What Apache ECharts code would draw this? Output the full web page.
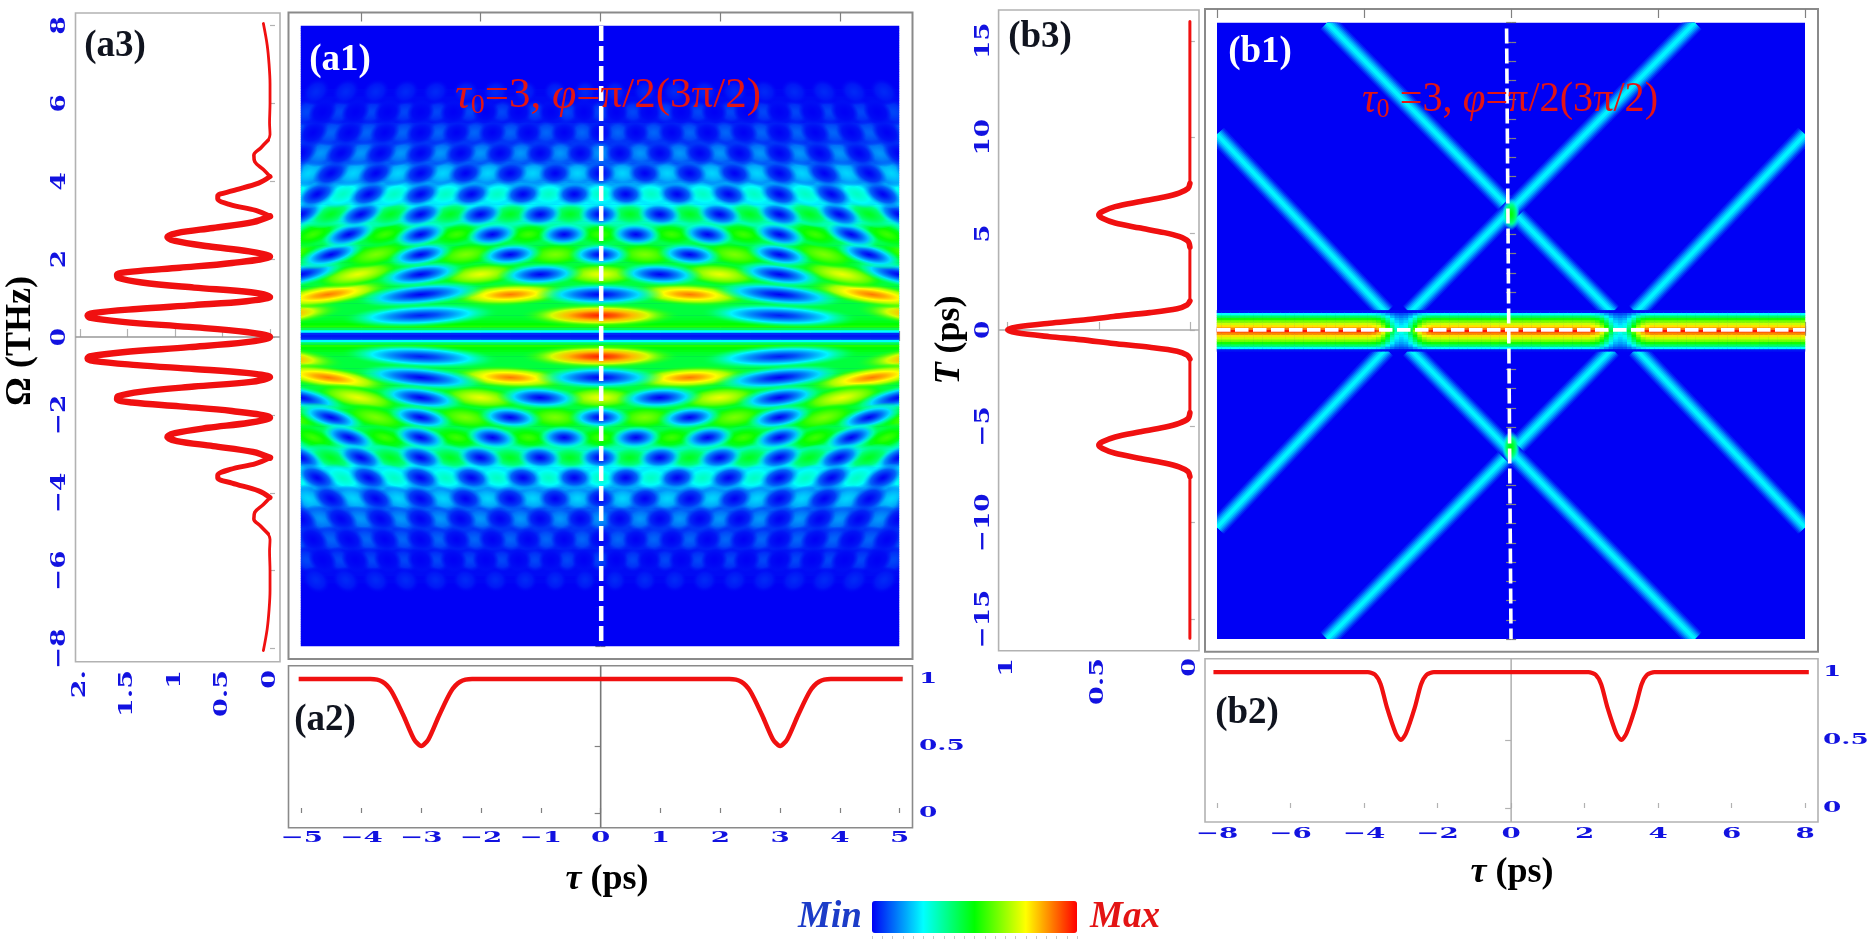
<!DOCTYPE html>
<html><head><meta charset="utf-8">
<style>html,body{margin:0;padding:0;background:#fff}#c{width:1874px;height:947px}</style>
<script src="https://cdn.jsdelivr.net/npm/echarts@6/dist/echarts.min.js"></script>
</head><body><div id="c"></div>
<script>
// ---------- values ----------
const jetColors=['#0000f5','#00ffff','#00ff00','#ffff00','#ff0000'];
// a1: background level for |Omega| = 0, 0.0625, 0.125 ...
const a1Level=[.02,.04,.25,.42,.53,.50,.48,.46,.45,
.44,.44,.44,.44,.44,.44,.44,.44, .44,.44,.44,.44,.44,.44,.44,.44,
.44,.44,.44,.44,.44,.44,.44,.44, .44,.44,.44,.44,.44,.43,.43,.42,
.40,.38,.36,.35,.34,.33,.32,.31, .30,.29,.28,.27,.26,.25,.24,.23,
.22,.21,.20,.19,.18,.17,.16,.15, .14,.13,.12,.12,.11,.10,.09,.09,
.08,.08,.07,.07,.06,.06,.05,.05, .05,.04,.04,.04,.03,.03,.03,.03,
.02,.02,.02,.02,.015,.015,.01,.01, .01,.01,.01,.005,.005,.005,0,0,
0,0,0,0,0,0,0,0, 0,0,0,0,0,0,0,0, 0,0,0,0,0,0,0,0];
// a1: lobe rows
const rowOmega=[.53,1.07,1.59,2.1,2.62,3.14,3.66,4.2,4.72,5.25,5.78,6.3];
const rowHotValue=[.97,.88,.73,.62,.56,.47,.31,.21,.15,.1,.07,.04];
const rowColdValue=[.03,0,0,0,0,0,0,0,0,0,0,0];
const rowHotTau=[[0,5.6],[1.5,4.55],[0,2,4.05],[.75,2.25,3.75,5.25],[0,1.2,2.4,3.6,4.8],[.5,1.5,2.5,3.5,4.5],
[0,.86,1.72,2.58,3.44,4.3,5.16],[.375,1.125,1.875,2.625,3.375,4.125,4.875],[0,.67,1.33,2,2.67,3.33,4,4.67],
[.3,.9,1.5,2.1,2.7,3.3,3.9,4.5,5.1],[0,.55,1.09,1.64,2.18,2.73,3.27,3.82,4.36,4.91],[.25,.75,1.25,1.75,2.25,2.75,3.25,3.75,4.25,4.75]];
const rowColdTau=[[3],[0,3],[1,3,5],[0,1.5,3,4.5],[.6,1.8,3,4.2,5.4],[0,1,2,3,4,5],
[.43,1.29,2.15,3,3.87,4.73],[0,.75,1.5,2.25,3,3.75,4.5,5.25],[.33,1,1.67,2.33,3,3.67,4.33,5],
[0,.6,1.2,1.8,2.4,3,3.6,4.2,4.8],[.27,.82,1.36,1.91,2.45,3,3.55,4.09,4.64],[]];
// a3 spectrum (Omega >= 0; the picture is mirror symmetric)
const a3Omega=[0,.13,.26,.39,.5,.55,.62,.72,.82,.92,1.03,1.15,1.27,1.4,1.52,1.6,1.68,1.78,1.9,2.07,2.2,2.33,2.47,2.57,2.67,2.8,2.95,3.1,3.25,3.4,3.55,3.62,3.75,3.95,4.12,4.3,4.5,4.67,4.85,5.05,5.2,5.5,6,6.5,7,7.5,8.05];
const a3Amp=[0,.25,.85,1.55,1.9,1.92,1.85,1.4,.8,.25,0,.2,.8,1.35,1.6,1.61,1.45,.95,.4,0,.22,.65,1,1.08,.98,.6,.18,0,.15,.42,.55,.55,.4,.12,0,.07,.16,.17,.1,.02,0,.005,.0,.0,.01,.03,.07];
// a2 / b2 sections
const a2Tau=[-5.05,-4.4,-3.85,-3.65,-3.5,-3.3,-3.12,-3,-2.88,-2.7,-2.5,-2.35,-2.15,-1.6,0,1.6,2.15,2.35,2.5,2.7,2.88,3,3.12,3.3,3.5,3.65,3.85,4.4,5.05];
const a2Val=[1,1,1,.98,.91,.73,.55,.5,.55,.73,.91,.98,1,1,1,1,1,.98,.91,.73,.55,.5,.55,.73,.91,.98,1,1,1];
const b2Tau=[-8.1,-5,-3.9,-3.7,-3.55,-3.38,-3.14,-3,-2.86,-2.62,-2.45,-2.3,-2.1,-1,0,1,2.1,2.3,2.45,2.62,2.86,3,3.14,3.38,3.55,3.7,3.9,5,8.1];
const b2Val=[1,1,1,.98,.91,.74,.55,.5,.55,.74,.91,.98,1,1,1,1,1,.98,.91,.74,.55,.5,.55,.74,.91,.98,1,1,1];
// b3 profile (T >= 0; mirror symmetric)
const b3T=[0,.15,.35,.5,.7,.9,1.1,1.3,1.5,2.5,4.3,4.6,4.85,5.05,5.3,5.55,5.8,5.97,6.15,6.4,6.65,6.9,7.1,7.35,7.6,8.5,16];
const b3Val=[1,.95,.77,.6,.42,.22,.07,.015,0,0,0,.01,.06,.14,.28,.41,.48,.5,.48,.41,.28,.14,.06,.01,0,0,0];
// b1 beams: tau1,T1,tau2,T2
const beamEnds=[[-5,16,2.75,.95],[5,16,-2.75,.95],[-8,10.2,-3.4,.95],[8,10.2,3.4,.95],
[-5,-16,2.75,-.95],[5,-16,-2.75,-.95],[-8,-10.2,-3.4,-.95],[8,-10.2,3.4,-.95]];
const crossings=[[0,6.05,.5],[0,-6.05,.5]];
// b1 horizontal band
const bandProfile=[.98,.87,.78,.7,.62,.52,.4,.25,.02];
const bandDist=[0,.125,.25,.375,.5,.625,.75,.875];
const bandDip=[.3,.34,.46,.64,.82,.93,.98,1];
// ticks
const a1TauMinor=[-5,-4.5,-4,-3.5,-3,-2.5,-2,-1.5,-1,-.5,0,.5,1,1.5,2,2.5,3,3.5,4,4.5,5];
const a1TauMajor=[-4,-2,0,2,4];
const a1OmegaTicks=[-8,-7,-6,-5,-4,-3,-2,-1,0,1,2,3,4,5,6,7,8];
const tauTicksA=[-5,-4,-3,-2,-1,0,1,2,3,4,5];
const tauLabelsA=['−5','−4','−3','−2','−1','0','1','2','3','4','5'];
const yTicks01=[0,.5,1];
const yLabels01=['0','0.5','1'];
const omegaTicks=[-8,-6,-4,-2,0,2,4,6,8];
const omegaLabels=['−8','−6','−4','−2','0','2','4','6','8'];
const a3AmpTicks=[2,1.5,1,.5,0];
const a3AmpLabels=['2.','1.5','1','0.5','0'];
const b1TauMinor=[-8,-7,-6,-5,-4,-3,-2,-1,0,1,2,3,4,5,6,7,8];
const b1TauMajor=[-8,-4,0,4,8];
const b1TTicks=[-16,-15,-14,-13,-12,-11,-10,-9,-8,-7,-6,-5,-4,-3,-2,-1,0,1,2,3,4,5,6,7,8,9,10,11,12,13,14,15,16];
const tauTicksB=[-8,-6,-4,-2,0,2,4,6,8];
const tauLabelsB=['−8','−6','−4','−2','0','2','4','6','8'];
const tTicks=[-15,-10,-5,0,5,10,15];
const tLabels=['−15','−10','−5','0','5','10','15'];
const b3AmpTicks=[1,.5,0];
const b3AmpLabels=['1','0.5','0'];
const legendTicks=[0,.05,.1,.15,.2,.25,.3,.35,.4,.45,.5,.55,.6,.65,.7,.75,.8,.85,.9,.95,1];

// ---------- helpers ----------
const grids=[],xAxes=[],yAxes=[],series=[];
const FRAME_A='#8a8a8a',FRAME_L='#b2b2b2',TICK='#808080';
function ax(o){return Object.assign({type:'value',splitLine:{show:false},axisLine:{show:false},axisLabel:{show:false},axisTick:{show:false},scale:true},o);}
function tk(vals,len,col){return {show:true,inside:true,customValues:vals,length:len,lineStyle:{color:col||TICK,width:1.2}};}
function addGrid(r,xr,yr,o){o=o||{};
 const g=grids.length;
 grids.push({left:r[0],top:r[2],width:r[1]-r[0],height:r[3]-r[2],show:!!o.show,borderColor:o.border||FRAME_A,borderWidth:o.show?(o.bw===undefined?1.6:o.bw):0,backgroundColor:o.bg||'transparent',containLabel:false});
 const xi=xAxes.length,yi=yAxes.length;
 xAxes.push(ax({gridIndex:g,min:xr[0],max:xr[1],position:'bottom',inverse:!!o.xInv,axisTick:o.xt||{show:false}}));
 yAxes.push(ax({gridIndex:g,min:yr[0],max:yr[1],position:o.yPos||'left',axisTick:o.yt||{show:false}}));
 if(o.xt2)xAxes.push(ax({gridIndex:g,min:xr[0],max:xr[1],position:'top',axisTick:o.xt2}));
 if(o.yt2)yAxes.push(ax({gridIndex:g,min:yr[0],max:yr[1],position:'right',axisTick:o.yt2}));
 return {xi,yi,xr,yr};
}
function catGrid(r,xd,yd,bg){
 const g=grids.length;grids.push({left:r[0],top:r[2],width:r[1]-r[0],height:r[3]-r[2],show:!!bg,borderWidth:0,backgroundColor:bg||'transparent'});
 const xi=xAxes.length,yi=yAxes.length;
 xAxes.push({type:'category',gridIndex:g,data:xd,show:false});
 yAxes.push({type:'category',gridIndex:g,data:yd,show:false});
 return {xi,yi};
}
function hex(c){return [1,3,5].map(i=>parseInt(c.slice(i,i+2),16));}
function jet(v,a){v=Math.max(0,Math.min(1,v))*(jetColors.length-1);const i=Math.min(Math.floor(v),jetColors.length-2),f=v-i;
 const p=hex(jetColors[i]),q=hex(jetColors[i+1]);
 return 'rgba('+p.map((x,k)=>Math.round(x+(q[k]-x)*f)).join(',')+','+(a===undefined?1:a)+')';}
function levelAt(om){const i=Math.min(a1Level.length-1,Math.round(Math.abs(om)/.0625));return a1Level[i];}
function blobShape(x,y,rx,ry,rot,v,base){
 const stops=[0,.2,.4,.6,.8,1].map(t=>({offset:t,color:jet(v+(base-v)*Math.pow(t,1.35),t<.65?1:(t<.9?.55:0))}));
 return {type:'circle',x,y,rotation:rot,scaleX:rx,scaleY:ry,shape:{cx:0,cy:0,r:1},silent:true,
  style:{fill:new echarts.graphic.RadialGradient(.5,.5,.5,stops)}};
}
function tickText(g,vals,txt,mode,fixed,o){o=o||{};
 series.push({type:'custom',xAxisIndex:g.xi,yAxisIndex:g.yi,silent:true,z:6,clip:false,
  data:vals.map((v,i)=>[v,i]),
  renderItem(p,api){const v=api.value(0),i=api.value(1);
   const c=mode==='x'?api.coord([v,g.yr[0]])[0]:api.coord([g.xr[0],v])[1];
   return {type:'text',x:mode==='x'?c:fixed,y:mode==='x'?fixed:c,rotation:o.rot||0,scaleX:o.sx||1.85,silent:true,
    style:{text:txt[i],font:'bold '+(o.fs||15)+'px "DejaVu Serif"',fill:'#1212e0',align:o.align||'center',verticalAlign:'middle'}};}});
}
function line(g,d,col,w,o){series.push(Object.assign({type:'line',xAxisIndex:g.xi,yAxisIndex:g.yi,data:d,symbol:'none',silent:true,animation:false,lineStyle:{color:col,width:w}},o||{}));}

// ---------- panel a1 ----------
addGrid([288.5,912.5,12.5,659],[-5.21,5.214],[-8.335,8.35],{show:true,bw:2,xt:tk(a1TauMinor,5),xt2:tk(a1TauMinor,5),yt:tk(a1OmegaTicks,5),yt2:tk(a1OmegaTicks,5)});
addGrid([288.5,912.5,12.5,659],[-5.21,5.214],[-8.335,8.35],{xt:tk(a1TauMajor,9),xt2:tk(a1TauMajor,9)});
const a1Full=[...a1Level.slice(1).reverse(),...a1Level];
const a1Cat=catGrid([301,899,26,646],['0'],a1Full.map((_,i)=>String(i)),'#0000f5');
series.push({type:'heatmap',xAxisIndex:a1Cat.xi,yAxisIndex:a1Cat.yi,silent:true,data:a1Full.map((v,i)=>[0,i,v])});
const a1Val=addGrid([301,899,26,646],[-5,5],[-8,8]);
const hotData=[],coldData=[];
rowOmega.forEach((om,r)=>{
 const span=6/(r+1),base=levelAt(om);
 [[rowHotTau[r],rowHotValue[r],hotData],[rowColdTau[r],rowColdValue[r],coldData]].forEach(([ts,val,out])=>{
  ts.forEach(t=>{[1,-1].forEach(sx=>{[1,-1].forEach(sy=>{
   if(t===0&&sx<0)return;
   out.push([sx*t,sy*om,val,span,base]);
  });});});
 });
});
[hotData,coldData].forEach(d=>{
 series.push({type:'custom',xAxisIndex:a1Val.xi,yAxisIndex:a1Val.yi,clip:true,silent:true,z:3,data:d,
 renderItem(p,api){const t=api.value(0),om=api.value(1),v=api.value(2),s=api.value(3),b=api.value(4);
  const c=api.coord([t,om]);const stretch=1+Math.abs(t)*Math.abs(om)*.012;
  const rx=api.size([Math.min(1.35,Math.max(.36*s,.19)*stretch),0])[0],ry=api.size([0,.31])[1];
  const rot=t===0?0:-Math.sign(t)*Math.sign(om)*Math.atan(.015*Math.abs(t)*Math.abs(om)/.53);
  return blobShape(c[0],c[1],rx,ry,rot,v,b);}});
});
line(a1Val,[[.02,8],[.02,-8]],'#fff',4.5,{z:5,lineStyle:{color:'#fff',width:4.5,type:[15,5]}});

// ---------- panel a2 ----------
const a2G=addGrid([288.5,912.5,665.7,827.7],[-5.22,5.214],[-.11,1.1],{show:true,xt:tk(tauTicksA,5),yPos:'right',yt:tk(yTicks01,6)});
line(a2G,[[0,-.11],[0,1.1]],'#777',1.6);
line(a2G,a2Tau.map((t,i)=>[t,a2Val[i]]),'#f01010',4.5,{smooth:.25});
tickText(a2G,tauTicksA,tauLabelsA,'x',838);
tickText(a2G,yTicks01,yLabels01,'y',919,{align:'left',sx:1.75});

// ---------- panel a3 ----------
const a3G=addGrid([75.5,280,13,661.7],[-.105,2.047],[-8.336,8.32],{show:true,border:FRAME_L,xInv:true,xt:tk(a3AmpTicks,8,FRAME_L),yt:tk(omegaTicks,5,FRAME_L)});
line(a3G,[[-.105,0],[2.047,0]],'#999',1.4);
const a3All=[...a3Omega.slice(1).reverse().map(o=>[a3Amp[a3Omega.indexOf(o)],-o]),...a3Omega.map((o,i)=>[a3Amp[i],o])];
[[-8.1,-5.05,2.8],[-5.05,-4.12,3.6],[-4.12,-3.1,5],[-3.1,3.1,6.4],[3.1,4.12,5],[4.12,5.05,3.6],[5.05,8.1,2.8]].forEach(([a,b,w])=>{
 line(a3G,a3All.filter(p=>p[1]>=a&&p[1]<=b),'#f01010',w,{smooth:.35,z:3,lineStyle:{color:'#f01010',width:w,cap:'round'}});
});
tickText(a3G,omegaTicks,omegaLabels,'y',60,{rot:Math.PI/2,fs:21,sx:1.25});
tickText(a3G,a3AmpTicks,a3AmpLabels,'x',670,{rot:Math.PI/2,align:'right',fs:18,sx:1.5});

// ---------- panel b1 ----------
addGrid([1205,1818,9,651.7],[-8.33,8.35],[-16.65,16.7],{show:true,bw:2,xt:tk(b1TauMinor,5),xt2:tk(b1TauMinor,5),yt:tk(b1TTicks,5),yt2:tk(b1TTicks,5)});
addGrid([1205,1818,9,651.7],[-8.33,8.35],[-16.65,16.7],{xt:tk(b1TauMajor,9),xt2:tk(b1TauMajor,9)});
const b1V=addGrid([1217,1805,22.7,639],[-8,8],[-16,16],{show:true,bw:0,border:'#0000f5',bg:'#0000f5'});
const beamLayers=[[19,'#0020f8'],[16,'#0048fa'],[13,'#0078fc'],[10,'#00a4fe'],[7,'#00d0ff'],[3.5,'#00f4ff']];
series.push({type:'custom',xAxisIndex:b1V.xi,yAxisIndex:b1V.yi,clip:true,silent:true,z:2,data:beamEnds,
 renderItem(p,api){const a=api.coord([api.value(0),api.value(1)]),b=api.coord([api.value(2),api.value(3)]);
  return {type:'group',silent:true,children:beamLayers.map(l=>({type:'line',silent:true,shape:{x1:a[0],y1:a[1],x2:b[0],y2:b[1]},style:{stroke:l[1],lineWidth:l[0],lineCap:'butt'}}))};}});
const bandCols=[];for(let i=0;i<=128;i++)bandCols.push(String(i));
const bandRows=[];for(let i=0;i<17;i++)bandRows.push(String(i));
const bCat=catGrid([1217,1805,330.85-20.5,330.85+20.5],bandCols,bandRows);
const bandData=[];
bandCols.forEach((_,c)=>{const tau=-8+c*.125,d=Math.abs(Math.abs(tau)-3),j=bandDist.findIndex(x=>Math.abs(x-d)<1e-6),f=j>=0?bandDip[j]:1;
 bandRows.forEach((_,r)=>{bandData.push([c,r,bandProfile[Math.abs(r-8)]*f]);});});
series.push({type:'heatmap',xAxisIndex:bCat.xi,yAxisIndex:bCat.yi,silent:true,z:3,data:bandData});
series.push({type:'custom',xAxisIndex:b1V.xi,yAxisIndex:b1V.yi,clip:true,silent:true,z:4,data:crossings,
 renderItem(p,api){const c=api.coord([api.value(0),api.value(1)]);const rx=api.size([.24,0])[0],ry=api.size([0,.85])[1];
  return blobShape(c[0],c[1],rx,ry,0,api.value(2),.22);}});
line(b1V,[[-.12,15.7],[0,-16]],'#fff',3.6,{z:5,lineStyle:{color:'#fff',width:3.6,type:[15,5]}});
line(b1V,[[-8,.05],[8,.05]],'#fff',3.8,{z:5,lineStyle:{color:'#fff',width:3.8,type:[13.5,4.5]}});

// ---------- panel b2 ----------
const b2G=addGrid([1205,1818,658.7,822],[-8.33,8.35],[-.103,1.098],{show:true,border:FRAME_L,xt:tk(tauTicksB,5,FRAME_L),yPos:'right',yt:tk(yTicks01,6,FRAME_L)});
line(b2G,[[0,-.103],[0,1.098]],'#aaa',1.4);
line(b2G,b2Tau.map((t,i)=>[t,b2Val[i]]),'#f01010',4.2,{smooth:.25});
tickText(b2G,tauTicksB,tauLabelsB,'x',834);
tickText(b2G,yTicks01,yLabels01,'y',1823,{align:'left',sx:1.75});

// ---------- panel b3 ----------
const b3G=addGrid([998.6,1199,10,650.7],[-.05,1.05],[-16.64,16.6],{show:true,border:FRAME_L,xInv:true,xt:tk(b3AmpTicks,8,FRAME_L),yt:tk(tTicks,5,FRAME_L)});
line(b3G,[[-.05,0],[1.05,0]],'#aaa',1.4);
const b3All=[...b3T.slice(1).reverse().map(t=>[b3Val[b3T.indexOf(t)],-t]),...b3T.map((t,i)=>[b3Val[i],t])];
[[-16,-7.6,3],[-7.6,-4.3,5.6],[-4.3,-1.5,3],[-1.5,1.5,5.6],[1.5,4.3,3],[4.3,7.6,5.6],[7.6,16,3]].forEach(([a,b,w])=>{
 line(b3G,b3All.filter(p=>p[1]>=a&&p[1]<=b),'#f01010',w,{smooth:.3,z:3,lineStyle:{color:'#f01010',width:w,cap:'round'}});
});
tickText(b3G,tTicks,tLabels,'y',984,{rot:Math.PI/2,fs:21,sx:1.25});
tickText(b3G,b3AmpTicks,b3AmpLabels,'x',658,{rot:Math.PI/2,align:'right',fs:18,sx:1.5});

// ---------- colour bar ticks ----------
addGrid([872,1077,903,936],[0,1],[0,1],{xt:{show:true,inside:false,customValues:legendTicks,length:3,lineStyle:{color:'#c8c8c8',width:1}}});

const heatIdx=series.map((s,i)=>s.type==='heatmap'?i:-1).filter(i=>i>=0);
const SERIF='"Liberation Serif"';
function label(t,x,y,col,font,rot,rich,sx){return {type:'text',x,y,rotation:rot||0,scaleX:sx||1,z:100,silent:true,style:Object.assign({text:t,fill:col,font:font,align:'center',verticalAlign:'middle'},rich?{rich}:{})};}
const PANEL='bold 37px '+SERIF,DARK='#10141f';
const RED='#e31414';
const titleRich={i:{font:'italic 44px '+SERIF,fill:RED},s:{font:'28px '+SERIF,fill:RED,padding:[20,0,0,0]},n:{font:'43px '+SERIF,fill:RED}};
const axisRich={i:{font:'italic bold 36px '+SERIF,fill:'#000'},n:{font:'bold 36px '+SERIF,fill:'#000'}};
const graphic=[
 label('(a1)',340,60,'#fff',PANEL),label('(a2)',325,720,DARK,PANEL),label('(a3)',115,46,DARK,PANEL),
 label('(b1)',1260,52,'#fff',PANEL),label('(b2)',1247,713,DARK,PANEL),label('(b3)',1040,37,DARK,PANEL),
 label('{i|τ}{s|0}{n|=3, }{i|φ}{n|=π/2(3π/2)}',608,96,RED,'43px '+SERIF,0,titleRich),
 label('{i|τ}{s|0}{n| =3, }{i|φ}{n|=π/2(3π/2)}',1510,100,RED,'43px '+SERIF,0,titleRich,.935),
 label('Ω (THz)',21,341,'#000','bold 36px '+SERIF,Math.PI/2),
 label('{i|T} {n|(ps)}',950,340,'#000','bold 36px '+SERIF,Math.PI/2,axisRich),
 label('{i|τ} {n|(ps)}',607,880,'#000','bold 36px '+SERIF,0,axisRich),
 label('{i|τ} {n|(ps)}',1512,873,'#000','bold 36px '+SERIF,0,axisRich),
 label('Min',830,917,'#1c3cc8','italic bold 37px '+SERIF),
 label('Max',1125,917,RED,'italic bold 37px '+SERIF)
];
const chart=echarts.init(document.getElementById('c'),null,{renderer:'canvas'});
chart.setOption({animation:false,backgroundColor:'#fff',grid:grids,xAxis:xAxes,yAxis:yAxes,series,graphic,
 visualMap:{type:'continuous',min:0,max:1,dimension:2,seriesIndex:heatIdx,orient:'horizontal',left:857,top:886,itemWidth:32,itemHeight:205,calculable:false,hoverLink:false,text:null,showLabel:false,inRange:{color:jetColors},textStyle:{color:'transparent'}}
});
</script></body></html>
